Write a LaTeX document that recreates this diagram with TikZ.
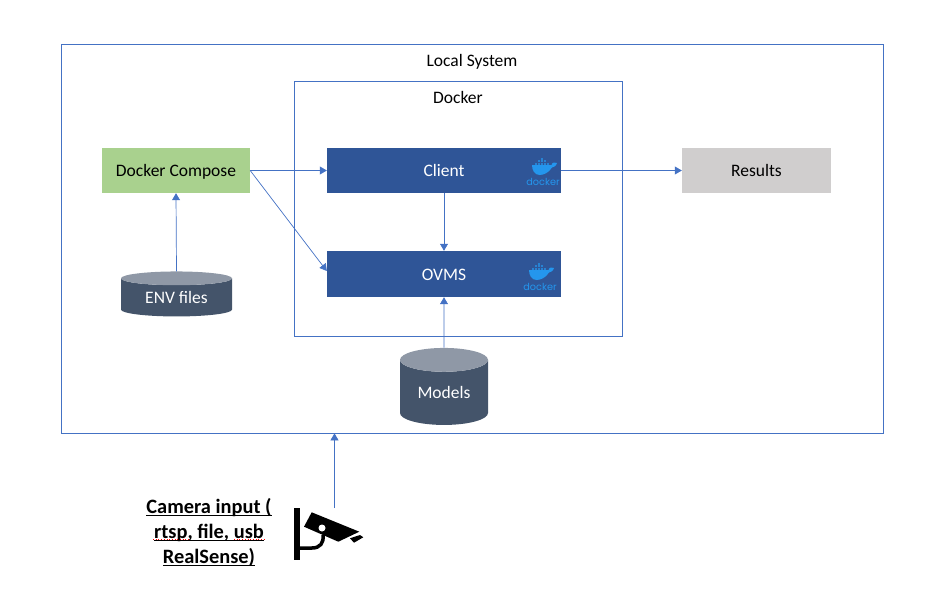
\documentclass[tikz,border=0pt]{standalone}
\usepackage{fontspec}
\setmainfont{Carlito}
\newfontfamily\logofont{Poppins}
\usetikzlibrary{positioning,calc,arrows.meta,shapes.geometric}

\definecolor{linecol}{HTML}{4472C4}
\definecolor{boxblue}{HTML}{2F5597}
\definecolor{boxgreen}{HTML}{A9D18E}
\definecolor{boxgrey}{HTML}{D0CECE}
\definecolor{cylbody}{HTML}{44546A}
\definecolor{cyltop}{HTML}{8F98A6}
\definecolor{logoblue}{HTML}{2496ED}

\newcommand{\camline}[1]{\leavevmode\setbox0\hbox{#1}\rlap{\rule[-2.6pt]{\wd0}{1.3pt}}\box0}

\tikzset{
    frame/.style={draw=linecol, line width=0.7pt, inner sep=0pt},
    box/.style={inner sep=0pt, text height=12.5pt, text depth=0pt, font=\fontsize{17.5}{20}\selectfont},
    cyl/.style={cylinder, shape border rotate=90, cylinder uses custom fill,
        cylinder body fill=cylbody, cylinder end fill=cyltop, inner sep=0pt,
        text=white, font=\fontsize{17.5}{20}\selectfont},
    conn/.style={draw=linecol, line width=0.7pt, -{Triangle[length=7pt,width=8pt]}},
    caption/.style={inner sep=0pt, text height=12.5pt, text depth=0pt, font=\fontsize{17.5}{20}\selectfont},
    logo/.pic={
        \fill[logoblue] (-12.5,0) -- (7,0) .. controls (8,-3) and (10,-3) .. (12.5,-2)
            .. controls (11.5,1.5) and (9,2) .. (7.5,2.5)
            .. controls (4,8) and (-1,10) .. (-5,10)
            .. controls (-10,10) and (-12.5,5) .. (-12.5,0) -- cycle;
        \foreach \col/\row in {-10/0,-7/0,-4/0,-1/0,2/0,-7/1,-4/1,-1/1,-4/2}
            \fill[logoblue!70!boxblue] (\col,-0.5-2.4*\row) rectangle ++(2.3,-2);
        \node[inner sep=0pt, text=logoblue, font=\logofont\fontsize{9.7}{11}\selectfont] at (-1.5,17) {docker};
    }
}

\begin{document}
\begin{tikzpicture}[x=1pt,y=-1pt]
    \useasboundingbox (0,0) rectangle (938,589);

    % outer frames
    \node[frame, minimum width=822.5pt, minimum height=389pt] (local) at (472.25,238.5) {};
    \node[caption] (localtitle) at (472,60) {Local System};
    \node[frame, minimum width=328pt, minimum height=255pt] (docker) at (458,208.5) {};
    \node[caption] (dockertitle) at (458,97) {Docker};

    % boxes
    \node[box, fill=boxgreen, minimum width=148pt, minimum height=45pt] (compose) at (176,170.5) {Docker Compose};
    \node[box, fill=boxblue, text=white, minimum width=234pt, minimum height=45pt] (client) at (444,170.5) {Client};
    \node[box, fill=boxblue, text=white, minimum width=234pt, minimum height=46pt] (ovms) at (444,274) {OVMS};
    \node[box, fill=boxgrey, minimum width=149pt, minimum height=45pt] (results) at (756.5,170.5) {Results};

    % stores
    \node[cyl, minimum width=111pt, minimum height=45pt, shape aspect=0.22] (env) at (176.5,297.5) {ENV files};
    \node[cyl, minimum width=88pt, minimum height=77pt, shape aspect=0.45] (models) at (444,392.5) {Models};

    \pic at (544.5,165) {logo};
    \pic at (541.5,270) {logo};

    % connectors
    \coordinate (composeout) at (compose.east);
    \coordinate (ovmsin) at ($(ovms.west)+(0,-3)$);
    \coordinate (camstart) at (334.5,508);
    \coordinate (localin) at (camstart |- local.south);
    \draw[conn] (composeout) -- (client.west);
    \draw[conn] (composeout) -- (ovmsin);
    \draw[conn] (client.east) -- (results.west);
    \draw[conn] (client.south) -- (ovms.north);
    \draw[conn] (models.north) -- (ovms.south);
    \draw[conn] (env.north) -- (compose.south);
    \draw[conn] (camstart) -- (localin);

    % camera
    \node[inner sep=0pt, align=center, font=\fontsize{20.4}{25}\selectfont\bfseries] (camlabel) at (209,532.5)
        {\camline{Camera input (}\\\camline{rtsp, file, usb}\\\camline{RealSense)}};
    \draw[red, dotted, line width=0.7pt] (153,539.5) -- (189,539.5);
    \draw[red, dotted, line width=0.7pt] (234,539.5) -- (266,539.5);
    \fill (294,508) rectangle (299.5,559.5);
    \draw[line width=3.5pt] (298,548) -- (312,548) .. controls (320,548) and (324,543) .. (323,535);
    \fill (311.7,512.3) -- (359.3,531.7) -- (338.3,541.7) -- (304,526.7) -- cycle;
    \fill[white] (322,528) circle (3.5);
    \fill (350,538.3) -- (360,535) -- (363.3,537.3) -- (354,542.7) -- cycle;
\end{tikzpicture}
\end{document}
